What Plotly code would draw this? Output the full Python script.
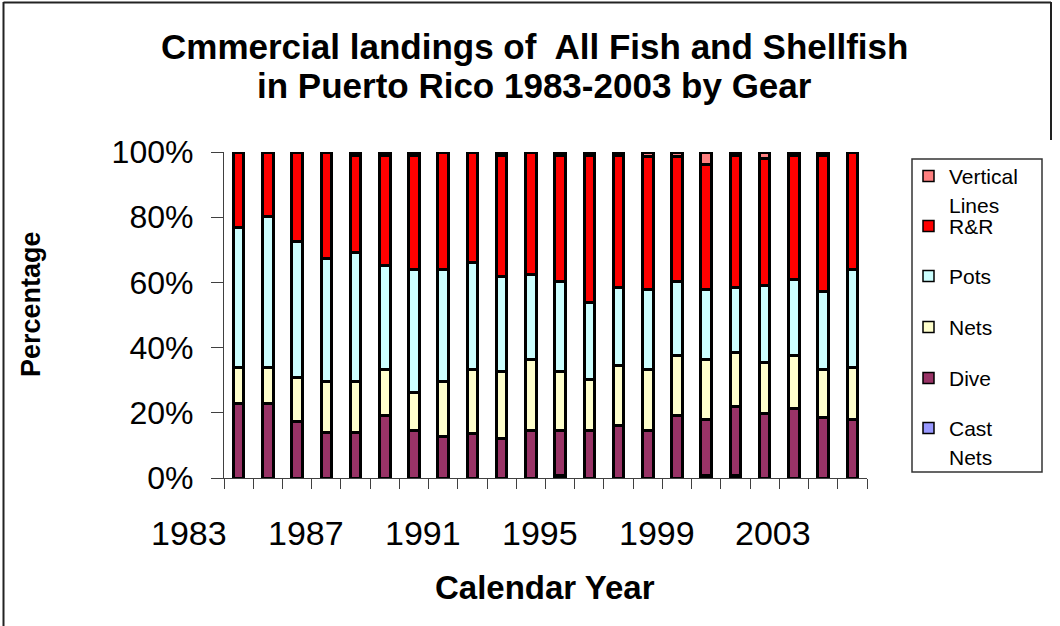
import plotly.graph_objects as go

# ---- data: share of commercial landings (%) by gear, stacked bottom to top ----
years = [1983, 1984, 1985, 1986, 1987, 1988, 1989, 1990, 1991, 1992, 1993,
         1994, 1995, 1996, 1997, 1998, 1999, 2000, 2001, 2002, 2003, 2004]
cast_nets = [0, 0, 0, 0, 0, 0, 0, 0, 0, 0, 0,
             0.8, 0, 0, 0, 0, 0.8, 0.8, 0, 0, 0, 0]
dive = [22.9, 22.9, 17.3, 14.0, 14.0, 19.3, 14.7, 12.7, 13.5, 12.2, 14.5,
        13.7, 14.5, 16.0, 14.5, 19.1, 17.0, 21.1, 19.8, 21.2, 18.6, 17.8]
nets = [11.0, 11.0, 13.5, 15.6, 15.6, 14.0, 11.6, 16.9, 19.9, 20.6, 22.0,
        18.3, 15.8, 18.5, 18.8, 18.6, 18.7, 16.7, 15.6, 16.5, 14.7, 16.1]
pots = [43.0, 46.3, 41.7, 37.8, 39.6, 32.0, 37.8, 34.5, 32.6, 29.0, 25.8,
        27.4, 23.6, 23.9, 24.4, 22.5, 21.2, 19.8, 23.6, 23.2, 23.9, 30.2]
r_and_r = [23.1, 19.8, 27.5, 32.6, 29.7, 33.7, 34.9, 35.9, 34.0, 37.2, 37.7,
           38.8, 45.1, 40.6, 40.8, 38.3, 38.6, 40.6, 39.0, 37.9, 41.8, 35.9]
vertical_lines = [0, 0, 0, 0, 1.1, 1.0, 1.0, 0, 0, 1.0, 0,
                  1.0, 1.0, 1.0, 1.5, 1.5, 3.7, 1.0, 2.0, 1.2, 1.0, 0]

series_names = ["Cast Nets", "Dive", "Nets", "Pots", "R&R", "Vertical Lines"]
series_values = [cast_nets, dive, nets, pots, r_and_r, vertical_lines]
series_colors = ["#9999FF", "#993366", "#FFFFCC", "#CCFFFF", "#FF0000", "#FF8080"]

y_ticks = [0, 20, 40, 60, 80, 100]
y_tick_text = ["0%", "20%", "40%", "60%", "80%", "100%"]
label_years = [1983, 1987, 1991, 1995, 1999, 2003]

title_lines = ["Cmmercial landings of  All Fish and Shellfish",
               "in Puerto Rico 1983-2003 by Gear"]

# ---- page geometry (pixels) ----
W, H = 1060, 626
L, R, T, B = 224, 193, 152, 148
PW, PH = W - L - R, H - T - B
FONT = "Liberation Sans, Arial, sans-serif"


def px(x):
    return (x - L) / PW


def py(y):
    return (H - B - y) / PH


x_lo, x_hi = years[0] - 0.5, years[-1] + 0.5


def x_frac(v):
    return (v - x_lo) / (x_hi - x_lo)


fig = go.Figure()
for name, vals, col in zip(series_names, series_values, series_colors):
    fig.add_trace(go.Bar(
        x=years, y=vals, name=name, width=0.36,
        marker=dict(color=col, line=dict(color="black", width=3)),
    ))

annotations = []
# title
for text, yc in zip(title_lines, [46, 85]):
    annotations.append(dict(text=f"<b>{text}</b>", x=px(534), y=py(yc),
                            xref="paper", yref="paper", showarrow=False,
                            xanchor="center", yanchor="middle",
                            font=dict(size=35, family=FONT, color="black")))
# category labels every fourth year
for yr in label_years:
    annotations.append(dict(text=str(yr), x=x_frac(yr - 1.7), y=py(533),
                            xref="paper", yref="paper", showarrow=False,
                            xanchor="center", yanchor="middle",
                            font=dict(size=34, family=FONT, color="black")))
# axis titles
annotations.append(dict(text="<b>Calendar Year</b>", x=px(545), y=py(587),
                        xref="paper", yref="paper", showarrow=False,
                        xanchor="center", yanchor="middle",
                        font=dict(size=33, family=FONT, color="black")))
annotations.append(dict(text="<b>Percentage</b>", x=px(31), y=py(304),
                        xref="paper", yref="paper", showarrow=False,
                        textangle=-90, xanchor="center", yanchor="middle",
                        font=dict(size=27, family=FONT, color="black")))

shapes = []
# chart frame
shapes.append(dict(type="line", xref="paper", yref="paper",
                   x0=px(3.5), x1=px(3.5), y0=py(2), y1=py(626),
                   line=dict(color="#222222", width=2)))
shapes.append(dict(type="line", xref="paper", yref="paper",
                   x0=px(3.5), x1=px(1051), y0=py(2.5), y1=py(2.5),
                   line=dict(color="#222222", width=2)))
shapes.append(dict(type="line", xref="paper", yref="paper",
                   x0=px(1051), x1=px(1051), y0=py(2), y1=py(140),
                   line=dict(color="#222222", width=2)))

# legend box, listed top to bottom
shapes.append(dict(type="rect", xref="paper", yref="paper",
                   x0=px(912), x1=px(1042), y0=py(159), y1=py(472),
                   line=dict(color="#333333", width=1.5), fillcolor="white"))
legend_rows = [176, 226, 276, 327, 378, 428]
legend_text = {"Vertical Lines": ["Vertical", "Lines"], "Cast Nets": ["Cast", "Nets"]}
for yc, name, col in zip(legend_rows, series_names[::-1], series_colors[::-1]):
    shapes.append(dict(type="rect", xref="paper", yref="paper",
                       x0=px(923), x1=px(934), y0=py(yc - 5.5), y1=py(yc + 5.5),
                       line=dict(color="black", width=1.5), fillcolor=col))
    parts = legend_text.get(name, [name])
    for k, part in enumerate(parts):
        annotations.append(dict(text=part, x=px(947), y=py(yc + 29 * k),
                                xref="paper", yref="paper", showarrow=False,
                                xanchor="left", yanchor="middle",
                                font=dict(size=21, family=FONT, color="black")))

fig.update_layout(
    width=W, height=H,
    margin=dict(l=L, r=R, t=T, b=B),
    barmode="stack",
    showlegend=False,
    paper_bgcolor="white",
    plot_bgcolor="white",
    font=dict(family=FONT, color="black"),
    annotations=annotations,
    shapes=shapes,
    xaxis=dict(range=[x_lo, x_hi],
               tickvals=[x_lo + i for i in range(len(years) + 1)],
               showticklabels=False, ticks="outside", ticklen=10,
               tickcolor="#404040", tickwidth=1.3,
               showline=True, linecolor="#404040", linewidth=1.3,
               showgrid=False, zeroline=False, fixedrange=True),
    yaxis=dict(range=[0, 100], tickvals=y_ticks, ticktext=y_tick_text,
               ticks="outside", ticklen=12, tickcolor="#404040", tickwidth=1.3,
               ticklabelstandoff=11,
               tickfont=dict(size=32, family=FONT, color="black"),
               showline=True, linecolor="#404040", linewidth=1.3,
               showgrid=False, zeroline=False, fixedrange=True),
)

fig.write_html("out.html")
